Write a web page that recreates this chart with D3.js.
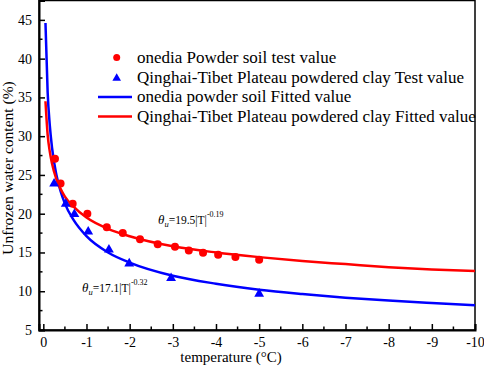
<!DOCTYPE html>
<html><head><meta charset="utf-8">
<script src="https://cdn.jsdelivr.net/npm/d3@7"></script>
<style>
html,body{margin:0;padding:0;background:#fff;}
svg{display:block;}
svg text{font-family:"Liberation Serif","Times New Roman",serif;fill:#000;}
</style></head>
<body><svg id="c" width="484" height="368"></svg>
<script>
// Test data (temperature °C, unfrozen water content %)
const onediaT = [-0.27,-0.4,-0.68,-1.02,-1.47,-1.84,-2.24,-2.65,-3.05,-3.37,-3.7,-4.05,-4.45,-5.0];
const onediaW = [27.1,23.9,21.3,20.0,18.25,17.5,16.7,16.06,15.75,15.25,14.97,14.72,14.4,14.05];
const qtT = [-0.25,-0.52,-0.72,-1.04,-1.52,-1.99,-2.96,-5.0];
const qtW = [24.0,21.4,20.06,17.8,15.5,13.7,11.8,9.8];
// Fitted curves
const fitT = [-0.05,-0.1,-0.15,-0.2,-0.3,-0.4,-0.5,-0.7,-1,-1.5,-2,-3,-4,-5,-6,-7,-8,-9,-10];
const fitBlue = [44.6,35.7,31.4,28.6,25.1,22.9,21.3,19.2,17.1,15.0,13.7,12.0,10.97,10.2,9.64,9.17,8.79,8.47,8.18];
const fitRed = [34.5,30.2,28.0,26.5,24.5,23.2,22.2,20.9,19.5,18.05,17.1,15.8,15.0,14.4,13.9,13.5,13.1,12.8,12.6];
const xTicks = [0,-1,-2,-3,-4,-5,-6,-7,-8,-9,-10];
const yTicks = [5,10,15,20,25,30,35,40,45];
const legendLabels = ["onedia Powder soil test value","Qinghai-Tibet Plateau powdered clay Test value","onedia powder soil Fitted value","Qinghai-Tibet Plateau powdered clay Fitted value"];

const svg = d3.select("#c");
const L=39,R=475,T=0.5,B=330;
const x = d3.scaleLinear().domain([0.1,-10]).range([L,R]);
const y = d3.scaleLinear().domain([5,47.5]).range([B,T]);

// frame
svg.append("rect").attr("x",L).attr("y",T).attr("width",R-L).attr("height",B-T)
  .attr("fill","none").attr("stroke","#000").attr("stroke-width",1.5);

// x axis
const xMinor = d3.range(0,21).map(i=>-i*0.5).filter(v=>v%1!==0);
const gx = svg.append("g").attr("transform",`translate(0,${B})`);
gx.call(d3.axisBottom(x).tickValues(xTicks).tickSize(-6).tickPadding(7).tickFormat(d=>String(d)));
gx.attr("font-family",null).attr("font-size",null);
gx.select(".domain").attr("stroke-width",2);
gx.selectAll(".tick line").attr("stroke-width",1.5);
gx.selectAll("text").style("font-size","14px");
gx.append("g").selectAll("line").data(xMinor).join("line")
  .attr("x1",d=>x(d)).attr("x2",d=>x(d)).attr("y1",0).attr("y2",-3.5).attr("stroke","#000").attr("stroke-width",1.5);

// y axis
const yMinor = d3.range(7.5,48,5);
const gy = svg.append("g").attr("transform",`translate(${L},0)`);
gy.call(d3.axisLeft(y).tickValues(yTicks).tickSize(-6).tickPadding(7));
gy.attr("font-family",null).attr("font-size",null);
gy.select(".domain").attr("stroke-width",2);
gy.selectAll(".tick line").attr("stroke-width",1.5);
gy.selectAll("text").style("font-size","14px");
gy.append("g").selectAll("line").data(yMinor).join("line")
  .attr("y1",d=>y(d)).attr("y2",d=>y(d)).attr("x1",0).attr("x2",3.5).attr("stroke","#000").attr("stroke-width",1.5);

// axis titles
svg.append("text").attr("x",231).attr("y",362).attr("text-anchor","middle").style("font-size","15px").text("temperature (°C)");
svg.append("text").attr("transform","translate(13,168) rotate(-90)").attr("text-anchor","middle").style("font-size","15.5px").text("Unfrozen water content (%)");

// curves
const line = d3.line().x(d=>x(d[0])).y(d=>y(d[1])).curve(d3.curveMonotoneX);
svg.append("path").datum(fitT.map((t,i)=>[t,fitBlue[i]])).attr("d",line)
  .attr("fill","none").attr("stroke","#0000ff").attr("stroke-width",2.5);
svg.append("path").datum(fitT.map((t,i)=>[t,fitRed[i]])).attr("d",line)
  .attr("fill","none").attr("stroke","#ff0000").attr("stroke-width",2.5);

// points
svg.append("g").selectAll("circle").data(onediaT.map((t,i)=>[t,onediaW[i]])).join("circle")
  .attr("cx",d=>x(d[0])).attr("cy",d=>y(d[1])).attr("r",4).attr("fill","#ff0000");
const tri = d3.symbol().type(d3.symbolTriangle).size(42);
svg.append("g").selectAll("path").data(qtT.map((t,i)=>[t,qtW[i]])).join("path")
  .attr("transform",d=>`translate(${x(d[0])},${y(d[1])+1})`).attr("d",tri).attr("fill","#0000ff");

// legend
const lg = svg.append("g");
const ly0 = 57.5, ldy = 19.7;
lg.append("circle").attr("cx",116.7).attr("cy",ly0).attr("r",3.5).attr("fill","#ff0000");
lg.append("path").attr("transform",`translate(116.7,${ly0+ldy+1})`).attr("d",d3.symbol().type(d3.symbolTriangle).size(32)).attr("fill","#0000ff");
lg.append("line").attr("x1",98).attr("x2",132).attr("y1",ly0+2*ldy).attr("y2",ly0+2*ldy).attr("stroke","#0000ff").attr("stroke-width",2.5);
lg.append("line").attr("x1",98).attr("x2",132).attr("y1",ly0+3*ldy).attr("y2",ly0+3*ldy).attr("stroke","#ff0000").attr("stroke-width",2.5);
lg.selectAll("text").data(legendLabels).join("text")
  .attr("x",137).attr("y",(d,i)=>ly0+i*ldy).attr("dominant-baseline","central").style("font-size","17px").text(d=>d);

// equations
function eq(xp,yp,a,b){
  const t = svg.append("text").attr("x",xp).attr("y",yp).style("font-size","11.5px");
  t.append("tspan").attr("font-style","italic").style("font-size","13px").text("θ");
  t.append("tspan").attr("font-style","italic").style("font-size","8.5px").attr("dy",2.5).text("u");
  t.append("tspan").attr("dy",-2.5).text("="+a+"|T|");
  t.append("tspan").style("font-size","8px").attr("dy",-7).text(b);
}
eq(158,224,"19.5","-0.19");
eq(82,292,"17.1","-0.32");
</script></body></html>
